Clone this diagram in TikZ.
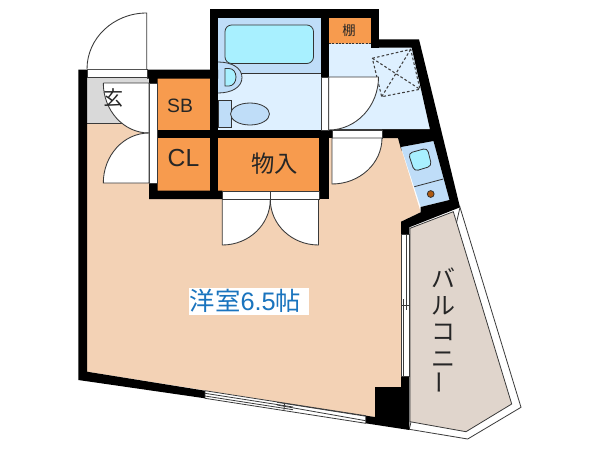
\documentclass[tikz,border=0pt]{standalone}
\usepackage{fontspec}
\setmainfont{Liberation Sans}
\newfontfamily\cjk{Noto Sans CJK JP}
\definecolor{roomc}{HTML}{F3D2B5}
\definecolor{orangec}{HTML}{F79B4E}
\definecolor{bathd}{HTML}{BFDDF8}
\definecolor{bathl}{HTML}{DEF0FF}
\definecolor{tubc}{HTML}{A8F0FF}
\definecolor{greyc}{HTML}{D9D9D9}
\definecolor{balc}{HTML}{E0D5CC}
\definecolor{linec}{HTML}{3A3A3A}
\definecolor{bluet}{HTML}{1A74BE}
\definecolor{stovec}{HTML}{B05A10}
\tikzset{
  wall/.style={fill=black,draw=none},
  doorleaf/.style={fill=white,draw=linec,line width=0.65pt},
  thin line/.style={draw=linec,line width=0.6pt},
  fixture/.style={draw=black!80,line width=0.6pt},
  pan/.style={draw=black!75,dashed,dash pattern=on 2pt off 1.6pt,line width=0.8pt},
  lbl/.style={inner sep=0pt,text=black!85},
}
\begin{document}
\begin{tikzpicture}[x=0.75pt,y=-0.75pt]
\useasboundingbox[fill=white] (0,0) rectangle (600,450);
% room
\fill[roomc] (87,123) -- (149,123) -- (149,199) -- (329,199) -- (329,138) -- (398,138) -- (420.7,212.3) -- (401,221.7) -- (401,387) -- (375,387) -- (375,417) -- (365.7,415.7) -- (87,371.7) -- cycle;
% genkan
\fill[greyc] (87,78) rectangle (149,123.5);
\draw[thin line] (87,123.5) -- (125,123.5);
% storage
\fill[orangec] (157,78) rectangle (210,130);
\fill[orangec] (157,138) rectangle (210,191);
\fill[orangec] (218,138) rectangle (321,191);
\fill[orangec] (329,18) rectangle (371,43.5);
% bath
\fill[bathd] (218,18) rectangle (321,73.5);
\fill[bathl] (218,73.5) rectangle (321,130);
\draw[fixture] (218,73.5) -- (321,73.5);
\draw[fixture,fill=tubc,rounded corners=5pt] (225,25) rectangle (313.5,63.5);
\draw[fixture,fill=bathd] (218,62) .. controls (232,62) and (242,68) .. (242,77.5) .. controls (242,87) and (232,93) .. (218,93);
\draw[fixture,fill=tubc] (225,68.5) -- (229,68.5) .. controls (233,68.5) and (236,72) .. (236,77) .. controls (236,82) and (233,86) .. (229,86) -- (225,86) -- cycle;
\draw[fixture,fill=bathd] (218,100) rectangle (231,127.5);
\draw[fixture,fill=bathd] (250,114) ellipse [x radius=19.5,y radius=11];
% wash room
\fill[bathl] (329,43.5) -- (371,43.5) -- (371,47.7) -- (411.7,47.7) -- (430,129.5) -- (329,129.5) -- cycle;
\draw[thin line] (329,129.5) -- (430,129.5);
\draw[draw=black!80,dashed,dash pattern=on 1.5pt off 1pt,line width=0.6pt] (329,43.5) -- (371,43.5);
\draw[pan] (372.3,58.3) -- (410.7,49.3) -- (420,89.3) -- (381.7,96.7) -- cycle;
\draw[pan] (372.3,58.3) -- (420,89.3) (410.7,49.3) -- (381.7,96.7);
% balcony
\draw[fill=white,thin line] (460,207.3) -- (521,407.3) -- (467.7,439) -- (409.3,429.3) -- cycle;
\draw[fill=balc,thin line] (410,228.3) -- (453.3,211.7) -- (511.7,404) -- (466,431.7) -- (410,421.7) -- cycle;
% kitchen
\fill[bathd] (401,147) -- (433.5,141) -- (449.5,200) -- (420.7,207) -- cycle;
\draw[fixture] (414.3,186.7) -- (443.3,179);
\draw[fixture,fill=tubc,rounded corners=3pt] (408.3,153.3) -- (427.3,148) -- (431.7,166) -- (414.3,171.3) -- cycle;
\draw[fixture,fill=stovec] (430.7,194) circle [radius=3.4];
% walls
\fill[wall] (78.3,69.5) -- (87,69.5) -- (87,371.7) -- (205,390.7) -- (205,398.3) -- (78.3,380) -- cycle;
\fill[wall] (147,69.5) -- (218,69.5) -- (218,78.5) -- (157.5,78.5) -- (157.5,83) -- (149,83) -- (149,78.5) -- (147,78.5) -- cycle;
\fill[wall] (210,9) rectangle (379,18);
\fill[wall] (210,9) rectangle (218,199);
\fill[wall] (321,9) rectangle (329,77);
\fill[wall] (371,9) rectangle (379,47.7);
\fill[wall] (371,39.3) -- (419,39.3) -- (460,207.3) -- (455,209.3) -- (409.3,227.3) -- (409.3,234) -- (401,234) -- (401,221.7) -- (420.7,212.3) -- (420.7,207) -- (449.5,200) -- (433.5,141) -- (401,147) -- (401.5,151) -- (398,138) -- (382,138) -- (382,129.5) -- (430,129.5) -- (411.7,47.7) -- (371,47.7) -- cycle;
\fill[wall] (157.5,129.7) rectangle (332,138);
\fill[wall] (149,183) -- (157.5,183) -- (157.5,190.5) -- (222.3,190.5) -- (222.3,199) -- (149,199) -- cycle;
\fill[wall] (319,138) rectangle (329,199);
\fill[wall] (319,190.5) rectangle (329,199);
% black column + south wall end
\fill[wall] (401,376.7) -- (409.3,376.7) -- (409.3,430) -- (365.7,423.3) -- (365.7,415.7) -- (375,417) -- (375,387) -- (401,387) -- cycle;
% entrance threshold and door
\draw[fill=white,thin line] (87,69.5) rectangle (147,77.5);
\draw[doorleaf] (87,69) arc[start angle=180,end angle=270,x radius=59.7,y radius=56] -- (146.7,69);
% south window
\draw[fill=white,thin line] (205,390.7) -- (365.7,415.7) -- (365.7,423.3) -- (205,398.3) -- cycle;
\draw[thin line] (205,393.3) -- (293,407) (277,402.3) -- (365.7,416.2);
\draw[thin line] (205,396) -- (293,409.7) (277,405) -- (365.7,420.7);
\draw[thin line] (284.5,403) -- (284,410);
% east window
\draw[fill=white,thin line] (401.5,234) rectangle (409.3,376.7);
\draw[thin line] (406.5,234) -- (406.5,310) (403.8,299) -- (403.8,376.7);
\draw[thin line] (401.5,305) -- (409.3,305);
% genkan inner strip with doors
\draw[fill=white,thin line] (149,83) rectangle (157.5,183);
\draw[doorleaf] (103.3,83) -- (149,83) -- (149,133) arc[start angle=90,end angle=180,x radius=45.7,y radius=50];
\draw[doorleaf] (149,133) arc[start angle=270,end angle=180,x radius=45.7,y radius=50] -- (149,183) -- cycle;
% bath door
\draw[fill=white,thin line] (321,77) rectangle (328.7,130);
\draw[doorleaf] (328.7,77) -- (378.5,77) arc[start angle=0,end angle=90,x radius=49.8,y radius=53] -- cycle;
% room door
\draw[fill=white,thin line] (332,130.3) rectangle (382,138);
\draw[doorleaf] (332,138) -- (382,138) arc[start angle=0,end angle=90,x radius=50,y radius=46] -- cycle;
% closet doors
\draw[fill=white,thin line] (222.3,191) rectangle (319,199.5);
\draw[thin line] (270.3,191) -- (270.3,199.5);
\draw[doorleaf] (222.3,199.5) -- (270.3,199.5) arc[start angle=0,end angle=90,x radius=48,y radius=45.5] -- cycle;
\draw[doorleaf] (318.5,199.5) -- (270.3,199.5) arc[start angle=180,end angle=90,x radius=48.2,y radius=45.5] -- cycle;
% labels
\fill[white] (189.3,288) rectangle (309,314.5);
\node[inner sep=0pt,text=bluet,font=\fontsize{19}{21}\selectfont] (room) at (245.5,301) {{\cjk 洋室}6.5{\cjk 帖}};
\node[lbl,font=\fontsize{14.5}{16}\selectfont] (sb) at (180,106) {SB};
\node[lbl,font=\fontsize{18.5}{20}\selectfont] (cl) at (183.5,158) {CL};
\node[lbl,font=\cjk\fontsize{17.5}{19}\selectfont] (mono) at (274.5,164) {物入};
\node[lbl,font=\cjk\fontsize{15}{17}\selectfont] (gen) at (113.5,98) {玄};
\node[lbl,font=\cjk\fontsize{10}{12}\selectfont] (tana) at (349,30) {棚};
\node[lbl,align=center,font=\cjk\fontsize{18}{20}\selectfont] (bal) at (443.5,331) {バ\\ル\\コ\\ニ\\\rotatebox{90}{ー}};
\end{tikzpicture}
\end{document}
